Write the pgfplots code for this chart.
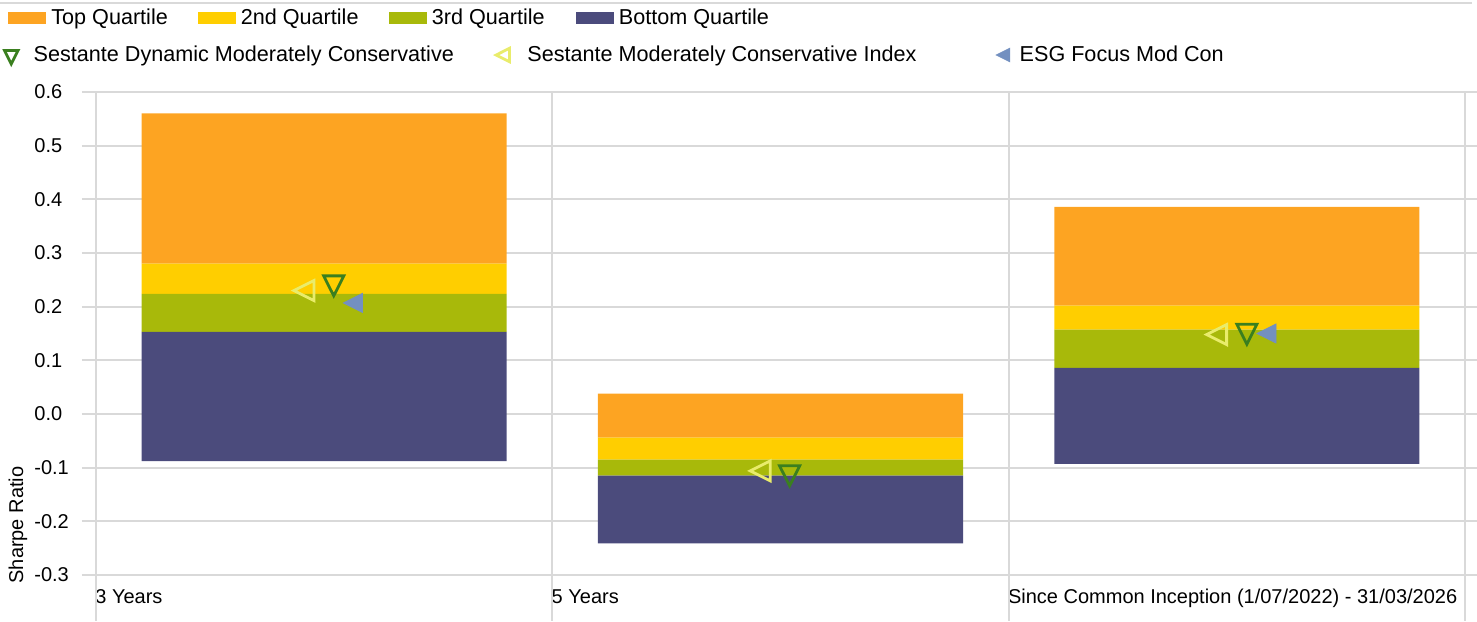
\documentclass[border=0pt]{standalone}
\usepackage{fontspec}
\setmainfont{Liberation Sans}
\usepackage{pgfplots}
\usepackage{pgfplotstable}
\pgfplotsset{compat=1.18}

\definecolor{topq}{HTML}{FDA422}
\definecolor{secq}{HTML}{FFCE00}
\definecolor{thrq}{HTML}{A8B90A}
\definecolor{botq}{HTML}{4B4B7C}
\definecolor{dyn}{HTML}{3A7F1F}
\definecolor{idx}{HTML}{E9EC6B}
\definecolor{esg}{HTML}{7390C0}
\definecolor{gridc}{HTML}{D9D9D9}

% quartile boundaries per period: low, bottom/3rd, 3rd/2nd, 2nd/top, high
\pgfplotstableread{
x lo b3 b2 b1 hi
0 -0.088 0.153 0.224 0.280 0.560
1 -0.241 -0.115 -0.085 -0.044 0.038
2 -0.093 0.086 0.157 0.202 0.386
}\quartiles

\pgfplotsset{
  base/.style={scale only axis,width=684.5pt,height=241.5pt,
    at={(0,0)},anchor=south west,
    xmin=-0.5,xmax=2.5,ymin=-0.3,ymax=0.6,clip=false},
  sq/.style={legend image code/.code={
    \fill[##1,draw=none] (0pt,-3pt) rectangle (19pt,3pt); \path (21.5pt,0pt);}},
  mk/.style={legend image code/.code={
    \draw[##1,mark size=3.9pt] plot coordinates {(0pt,0pt)};
    \path (-5pt,0pt) (#1,0pt);}},
}

\begin{document}
\begin{tikzpicture}
\useasboundingbox (-48pt,-23pt) rectangle (690.5pt,287.5pt);
\draw[gridc,line width=1pt] (-48pt,286pt) -- (688pt,286pt);
\begin{axis}[base,
  ybar stacked,stack negative=on previous,bar width=0.8,
  axis line style={draw=none},
  xtick={-0.5,0.5,1.5,2.5},
  xticklabels={3 Years,5 Years,Since Common Inception (1/07/2022) - 31/03/2026,{}},
  xtick style={draw=none},
  xmajorgrids,ymajorgrids,
  major grid style={gridc,line width=1pt},
  ytick={-0.3,-0.2,-0.1,0,0.1,0.2,0.3,0.4,0.5,0.6},
  yticklabels={-0.3,-0.2,-0.1,0.0,0.1,0.2,0.3,0.4,0.5,0.6},
  ytick style={gridc,line width=1pt},
  tick align=outside,major tick length=7pt,
  tick label style={font=\fontsize{10}{12}\selectfont},
  yticklabel style={anchor=west,inner sep=0pt,xshift=-24pt},
  xticklabel style={anchor=north west,inner sep=0pt,xshift=-0.5pt},
  ylabel={Sharpe Ratio},
  ylabel style={at={(axis description cs:-0.0570,0.1035)},anchor=center,
    font=\fontsize{10}{12}\selectfont},
  legend columns=-1,reverse legend,
  legend style={at={(axis description cs:-0.06428,1.1522)},anchor=west,
    draw=none,fill=none,inner sep=0pt,
    font=\fontsize{10.8}{13}\selectfont,
    nodes={inner sep=0pt},
    /tikz/every even column/.append style={column sep=0pt}},
  legend cell align=left,
]
% invisible base of each floating stack
\addplot[fill=none,draw=none,legend image code/.code={}]
  table[x=x,y=lo]{\quartiles};
\addlegendentry{}
\addplot[fill=botq,draw=none,sq] table[x=x,y expr=\thisrow{b3}-\thisrow{lo}]{\quartiles};
\addlegendentry{Bottom Quartile}
\addplot[fill=thrq,draw=none,sq] table[x=x,y expr=\thisrow{b2}-\thisrow{b3}]{\quartiles};
\addlegendentry{\makebox[72pt][l]{3rd Quartile}}
\addplot[fill=secq,draw=none,sq] table[x=x,y expr=\thisrow{b1}-\thisrow{b2}]{\quartiles};
\addlegendentry{\makebox[74pt][l]{2nd Quartile}}
\addplot[fill=topq,draw=none,sq] table[x=x,y expr=\thisrow{hi}-\thisrow{b1}]{\quartiles};
\addlegendentry{\makebox[73.25pt][l]{Top Quartile}}
\pgfplotsinvokeforeach{-0.5,0.5,1.5,2.5}{
  \draw[gridc,line width=1pt] (axis cs:#1,-0.3) -- ++(0pt,-23pt);}
\end{axis}

\begin{axis}[base,hide axis,
  legend columns=-1,
  legend style={at={(axis description cs:-0.06976,1.0766)},anchor=west,
    draw=none,fill=none,inner sep=0pt,
    font=\fontsize{10.8}{13}\selectfont,
    nodes={inner sep=0pt},
    /tikz/every even column/.append style={column sep=0pt}},
  legend cell align=left,
]
\addplot[only marks,mark=triangle,mark size=5.8pt,
  mark options={rotate=180,yscale=1.15,draw=dyn,fill=none,line width=1.4pt},
  mk=11pt]
  coordinates {(0.021,0.245) (1.020,-0.109) (2.022,0.155)};
\addlegendentry{\makebox[230.5pt][l]{Sestante Dynamic Moderately Conservative}}
\addplot[only marks,mark=triangle,mark size=5.8pt,
  mark options={rotate=90,yscale=1.15,draw=idx,fill=none,line width=1.4pt},
  mk=11pt]
  coordinates {(-0.037,0.230) (0.963,-0.106) (1.963,0.148)};
\addlegendentry{\makebox[233.7pt][l]{Sestante Moderately Conservative Index}}
\addplot[only marks,mark=triangle*,mark size=5.5pt,
  mark options={rotate=90,yscale=1.15,draw=esg,fill=esg,line width=0.4pt},
  mk=7pt]
  coordinates {(0.070,0.207) (2.072,0.150)};
\addlegendentry{ESG Focus Mod Con}
\end{axis}
\end{tikzpicture}
\end{document}
